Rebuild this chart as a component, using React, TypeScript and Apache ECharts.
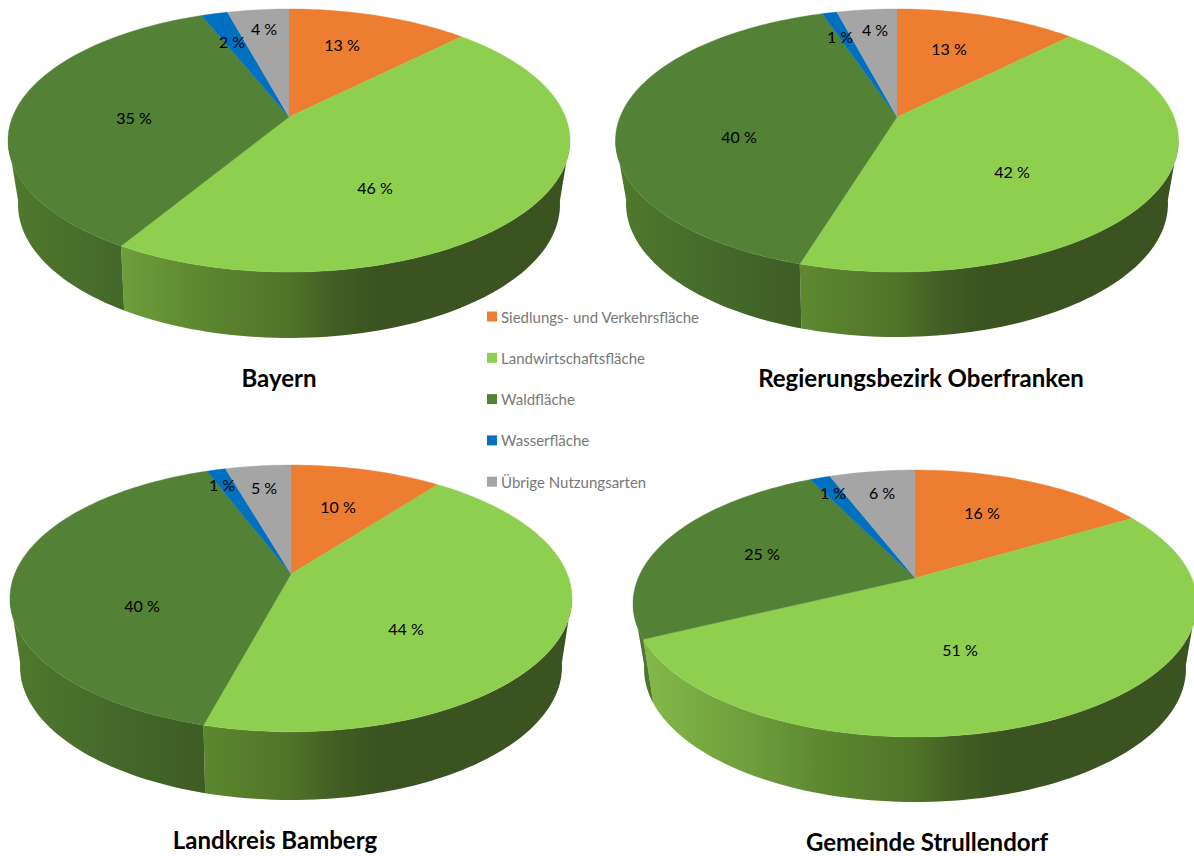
import React, { useEffect, useRef } from "react";
import * as echarts from "echarts";

// Data
const regions = ["Bayern", "Regierungsbezirk Oberfranken", "Landkreis Bamberg", "Gemeinde Strullendorf"];
const categories = ["Siedlungs- und Verkehrsfläche", "Landwirtschaftsfläche", "Waldfläche", "Wasserfläche", "Übrige Nutzungsarten"];
const siedlung = [12.4, 12.4, 10.4, 16.5];
const landwirtschaft = [46.2, 42.3, 43.8, 51.3];
const wald = [35.4, 40.2, 40.0, 24.9];
const wasser = [1.8, 1.0, 1.3, 1.4];
const uebrige = [4.2, 4.1, 4.5, 5.9];
const shares = [siedlung, landwirtschaft, wald, wasser, uebrige];
const printedSiedlung = [13, 13, 10, 16];
const printedLandwirtschaft = [46, 42, 44, 51];
const printedWald = [35, 40, 40, 25];
const printedWasser = [2, 1, 1, 1];
const printedUebrige = [4, 4, 5, 6];
const printed = [printedSiedlung, printedLandwirtschaft, printedWald, printedWasser, printedUebrige];

// Styles and layout
const topColors = ["#ED7D31", "#8FCF50", "#538135", "#0070C0", "#A5A5A5"];
const FONT = "Lato";
const pies = [
  { cx: 289, cy: 117, a: 127.3, k: 0.1787, b: 276.5, baseCy: 178, title: [279, 365] },
  { cx: 897, cy: 117, a: 127.3, k: 0.1787, b: 277, baseCy: 177, title: [921, 365] },
  { cx: 291, cy: 574, a: 128.9, k: 0.183, b: 276.3, baseCy: 640, title: [275, 827] },
  { cx: 915, cy: 578, a: 128.6, k: 0.191, b: 276.8, baseCy: 642, title: [927, 829] },
];
const BASE = { a: 128, k: 0.2, b: 265.5 };
const FRONT_FROM = 100;
const FRONT_TO = 260;
const labelSpots = [
  [[342, 44], [375, 187], [134, 117], [232, 41], [264, 28]],
  [[949, 48], [1012, 171], [739, 136], [840, 36], [875, 29]],
  [[338, 506], [406, 628], [142, 605], [222, 484], [264, 487]],
  [[982, 512], [960, 649], [762, 553], [833, 492], [882, 492]],
];
const wallStops: Record<number, [number, string][]> = {
  1: [[0, "#86BB4B"], [0.3, "#6F9F3D"], [0.52, "#5D8730"], [0.76, "#507528"], [0.88, "#435F24"], [1, "#3A5320"]],
  2: [[0, "#50792E"], [0.3, "#44682A"], [0.52, "#3E5C25"], [1, "#2F4A1C"]],
};

const project = (p: { a: number; k: number; b: number }, cx: number, cy: number, deg: number) => {
  const t = (deg * Math.PI) / 180;
  const w = 1 + p.k * Math.cos(t);
  return [cx + (p.b * Math.sin(t)) / w, cy - (p.a * Math.cos(t)) / w];
};

const arc = (p: any, cx: number, cy: number, from: number, to: number) => {
  const n = Math.max(2, Math.ceil((to - from) / 1.5));
  const pts: number[][] = [];
  for (let i = 0; i <= n; i++) pts.push(project(p, cx, cy, from + ((to - from) * i) / n));
  return pts;
};

const renderSlice = (params: any, api: any) => {
  const pieIdx = params.dataIndex;
  const catIdx = params.seriesIndex;
  const pie = pies[pieIdx];
  const value = api.value(1);
  const total = shares.reduce((s, r) => s + r[pieIdx], 0);
  let before = 0;
  for (let i = 0; i < catIdx; i++) before += shares[i][pieIdx];
  const from = (before / total) * 360;
  const to = ((before + value) / total) * 360;
  const children: any[] = [];
  const wf = Math.max(from, FRONT_FROM);
  const wt = Math.min(to, FRONT_TO);
  if (wt > wf && wallStops[catIdx]) {
    const upper = arc(pie, pie.cx, pie.cy, wf, wt);
    const lower = arc(BASE, pie.cx, pie.baseCy, wf, wt).reverse();
    children.push({
      type: "polygon",
      shape: { points: upper.concat(lower) },
      style: {
        fill: new echarts.graphic.LinearGradient(
          pie.cx - 280, 0, pie.cx + 85, 0,
          wallStops[catIdx].map(([offset, color]) => ({ offset, color })),
          true
        ),
      },
    });
  }
  children.push({
    type: "polygon",
    shape: { points: [[pie.cx, pie.cy], ...arc(pie, pie.cx, pie.cy, from, to)] },
    style: { fill: topColors[catIdx], stroke: topColors[catIdx], lineWidth: 0.4 },
  });
  const spot = labelSpots[pieIdx][catIdx];
  children.push({
    type: "text",
    z2: 10,
    style: {
      text: `${printed[catIdx][pieIdx]} %`,
      x: spot[0],
      y: spot[1],
      fill: "#000000",
      font: `16px ${FONT}`,
      align: "center",
      verticalAlign: "middle",
    },
  });
  return { type: "group", children };
};

export default function App() {
  const ref = useRef<HTMLDivElement>(null);
  useEffect(() => {
    const chart = echarts.init(ref.current!, undefined, { renderer: "svg" });
    chart.setOption({
      animation: false,
      backgroundColor: "#ffffff",
      title: regions.map((text, i) => ({
        text,
        left: pies[i].title[0],
        top: pies[i].title[1],
        textAlign: "center",
        padding: 0,
        textStyle: { fontFamily: FONT, fontWeight: "bold", fontSize: 24, color: "#000000" },
      })),
      legend: {
        orient: "vertical",
        left: 487,
        top: 309,
        padding: 0,
        itemGap: 26.3,
        itemWidth: 10,
        itemHeight: 10,
        icon: "rect",
        selectedMode: false,
        textStyle: { fontFamily: FONT, fontSize: 15, color: "#787878", padding: [0, 0, 0, -1] },
        data: categories,
      },
      series: categories.map((name, c) => ({
        type: "custom",
        name,
        coordinateSystem: "none",
        itemStyle: { color: topColors[c] },
        renderItem: renderSlice,
        data: shares[c].map((v, i) => [i, v]),
        encode: { value: 1 },
        silent: true,
      })),
    });
    return () => chart.dispose();
  }, []);
  return <div ref={ref} style={{ position: "absolute", left: 0, top: 0, width: 1194, height: 856 }} />;
}
